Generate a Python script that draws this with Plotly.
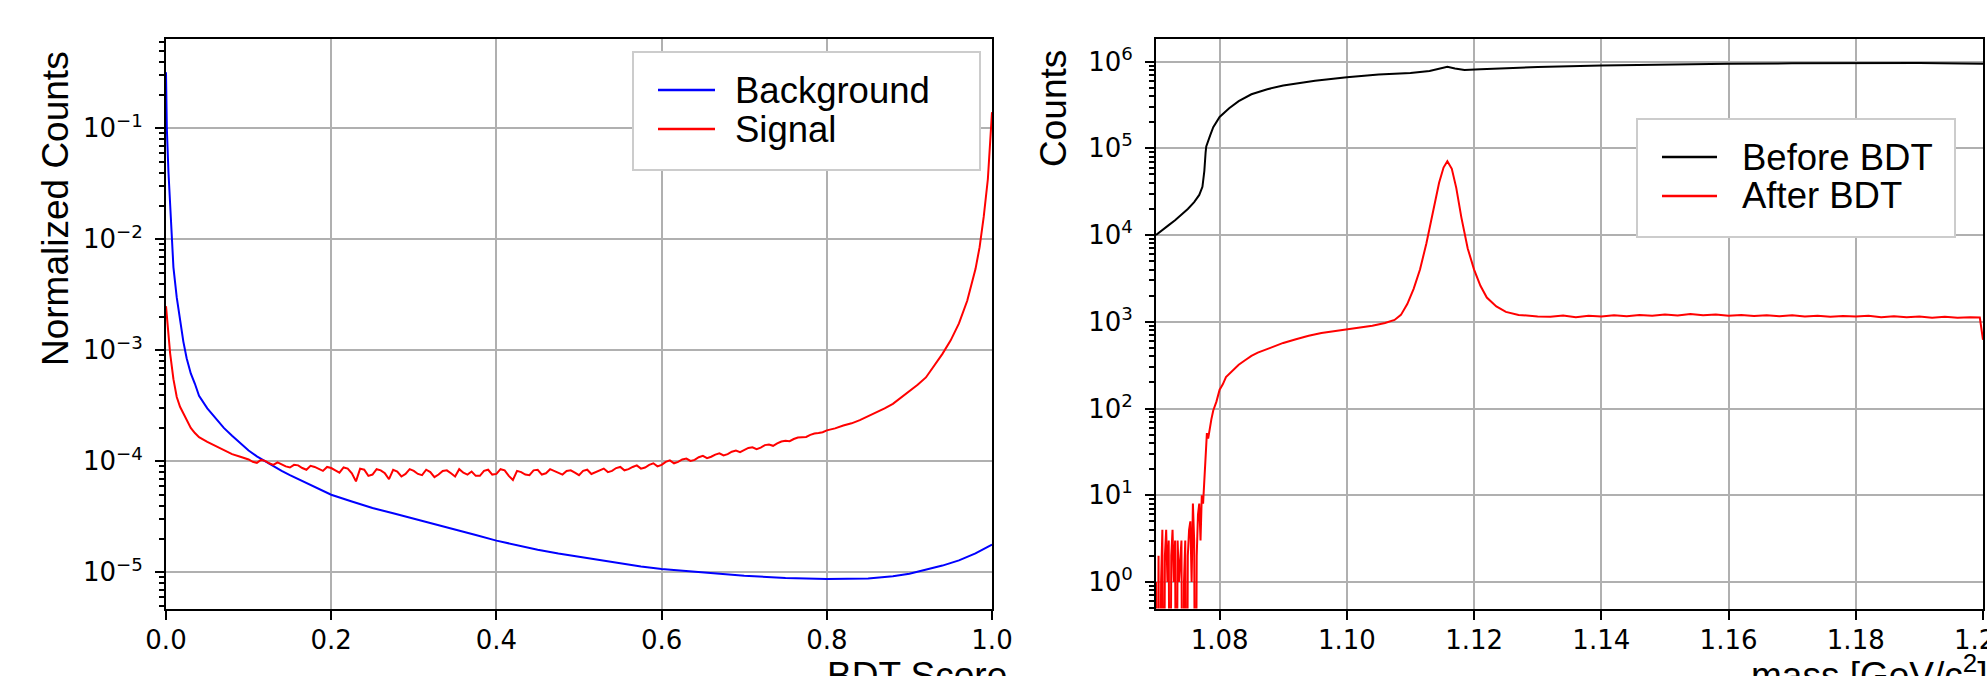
import plotly.graph_objects as go

W, H = 1987, 676

# ---------------- left panel: BDT score distributions ----------------
bkg_score = [0.0, 0.001, 0.003, 0.006, 0.009, 0.013, 0.017, 0.021, 0.025, 0.03,
             0.035, 0.04, 0.05, 0.06, 0.07, 0.08, 0.09, 0.10, 0.11, 0.12, 0.13, 0.14,
             0.15, 0.16, 0.17, 0.18, 0.19, 0.20, 0.225, 0.25, 0.275, 0.30, 0.325, 0.35,
             0.375, 0.40, 0.425, 0.45, 0.475, 0.50, 0.525, 0.55, 0.575,
             0.60, 0.65, 0.70, 0.75, 0.80, 0.85, 0.88, 0.90, 0.92, 0.94,
             0.96, 0.98, 1.0]
bkg_counts = [0.32, 0.10, 0.04, 0.0135, 0.0056, 3.0e-3, 1.8e-3, 1.2e-3, 8.5e-4, 6.2e-4,
              5.0e-4, 3.9e-4, 3.0e-4, 2.45e-4, 2.0e-4, 1.7e-4, 1.45e-4, 1.25e-4, 1.11e-4, 1.0e-4,
              9.0e-5, 8.2e-5,
              7.5e-5, 6.9e-5, 6.4e-5, 5.9e-5, 5.45e-5, 5.0e-5, 4.35e-5, 3.8e-5, 3.4e-5, 3.05e-5,
              2.72e-5, 2.45e-5, 2.17e-5, 1.93e-5, 1.75e-5, 1.6e-5, 1.48e-5, 1.38e-5, 1.29e-5,
              1.2e-5, 1.13e-5,
              1.07e-5, 9.9e-6, 9.3e-6, 8.9e-6, 8.7e-6, 8.8e-6, 9.2e-6, 9.7e-6, 1.05e-5, 1.15e-5,
              1.28e-5, 1.48e-5, 1.78e-5]

sig_score = [0.0, 0.002, 0.005, 0.009, 0.013, 0.017, 0.021, 0.025, 0.03, 0.035,
             0.04, 0.05, 0.06, 0.07, 0.08, 0.09,
             0.100, 0.105, 0.110, 0.115, 0.120, 0.125, 0.130, 0.135, 0.140, 0.145,
             0.150, 0.155, 0.160, 0.165, 0.170, 0.175, 0.180, 0.185, 0.190, 0.195,
             0.200, 0.205, 0.210, 0.215, 0.220, 0.225, 0.230, 0.235, 0.240, 0.245,
             0.250, 0.255, 0.260, 0.265, 0.270, 0.275, 0.280, 0.285, 0.290, 0.295,
             0.300, 0.305, 0.310, 0.315, 0.320, 0.325, 0.330, 0.335, 0.340, 0.345,
             0.350, 0.355, 0.360, 0.365, 0.370, 0.375, 0.380, 0.385, 0.390, 0.395,
             0.400, 0.405, 0.410, 0.415, 0.420, 0.425, 0.430, 0.435, 0.440, 0.445,
             0.450, 0.455, 0.460, 0.465, 0.470, 0.475, 0.480, 0.485, 0.490, 0.495,
             0.500, 0.505, 0.510, 0.515, 0.520, 0.525, 0.530, 0.535, 0.540, 0.545,
             0.550, 0.555, 0.560, 0.565, 0.570, 0.575, 0.580, 0.585, 0.590, 0.595,
             0.600, 0.605, 0.610, 0.615, 0.620, 0.625, 0.630, 0.635, 0.640, 0.645,
             0.650, 0.655, 0.660, 0.665, 0.670, 0.675, 0.680, 0.685, 0.690, 0.695,
             0.700, 0.705, 0.710, 0.715, 0.720, 0.725, 0.730, 0.735, 0.740, 0.745,
             0.750, 0.755, 0.760, 0.765, 0.770, 0.775, 0.780, 0.785, 0.790, 0.795,
             0.800, 0.81, 0.82, 0.83, 0.84, 0.85, 0.86, 0.87, 0.88, 0.89,
             0.90, 0.91, 0.92, 0.93, 0.94, 0.95, 0.96, 0.97, 0.975, 0.98,
             0.985, 0.99, 0.995, 1.0]
sig_counts = [2.5e-3, 1.6e-3, 9.4e-4, 5.5e-4, 3.8e-4, 3.1e-4, 2.7e-4, 2.3e-4, 2.0e-4, 1.8e-4,
              1.65e-4, 1.5e-4, 1.38e-4, 1.25e-4, 1.16e-4, 1.1e-4,
              1.04e-4, 9.9e-5, 9.7e-5, 1.03e-4, 1.01e-4, 9.6e-5, 9.3e-5, 9.8e-5, 9.4e-5, 9.0e-5,
              8.8e-5, 9.3e-5, 9.2e-5, 8.7e-5, 8.4e-5, 9.1e-5, 8.9e-5, 8.5e-5, 8.2e-5, 8.9e-5,
              8.7e-5, 8.3e-5, 7.9e-5, 8.8e-5, 8.6e-5, 7.8e-5, 6.6e-5, 8.6e-5, 8.4e-5, 7.4e-5,
              7.6e-5, 8.5e-5, 8.3e-5, 7.8e-5, 6.9e-5, 8.4e-5, 8.1e-5, 7.3e-5, 7.7e-5, 8.5e-5,
              8.2e-5, 7.7e-5, 7.5e-5, 8.4e-5, 8.0e-5, 7.2e-5, 7.6e-5, 8.2e-5, 8.3e-5, 7.8e-5,
              7.3e-5, 8.5e-5, 7.9e-5, 7.6e-5, 8.1e-5, 7.4e-5, 7.4e-5, 8.2e-5, 8.4e-5, 7.6e-5,
              7.7e-5, 8.5e-5, 8.3e-5, 7.4e-5, 6.8e-5, 8.2e-5, 8.0e-5, 7.6e-5, 7.5e-5, 8.3e-5,
              8.4e-5, 7.6e-5, 7.8e-5, 8.5e-5, 8.2e-5, 7.8e-5, 7.6e-5, 8.2e-5, 8.3e-5, 7.9e-5,
              7.5e-5, 8.2e-5, 8.4e-5, 7.7e-5, 8.0e-5, 8.3e-5, 8.6e-5, 8.0e-5, 8.2e-5, 8.7e-5,
              8.9e-5, 8.3e-5, 8.5e-5, 8.9e-5, 9.2e-5, 8.6e-5, 8.8e-5, 9.3e-5, 9.6e-5, 9.0e-5,
              9.3e-5, 9.9e-5, 1.02e-4, 9.6e-5, 9.9e-5, 1.04e-4, 1.06e-4, 1.01e-4, 1.03e-4, 1.09e-4,
              1.12e-4, 1.07e-4, 1.10e-4, 1.15e-4, 1.18e-4, 1.13e-4, 1.16e-4, 1.22e-4, 1.25e-4, 1.21e-4,
              1.27e-4, 1.32e-4, 1.34e-4, 1.29e-4, 1.33e-4, 1.40e-4, 1.42e-4, 1.38e-4, 1.45e-4, 1.51e-4,
              1.53e-4, 1.52e-4, 1.59e-4, 1.64e-4, 1.65e-4, 1.66e-4, 1.73e-4, 1.78e-4, 1.80e-4, 1.83e-4,
              1.90e-4, 1.98e-4, 2.10e-4, 2.20e-4, 2.35e-4, 2.55e-4, 2.75e-4, 3.0e-4, 3.3e-4, 3.75e-4,
              4.3e-4, 4.9e-4, 5.7e-4, 7.2e-4, 9.3e-4, 1.23e-3, 1.75e-3, 2.8e-3, 3.8e-3, 5.4e-3,
              8.5e-3, 0.016, 0.035, 0.14]

# ---------------- right panel: invariant mass ----------------
mass_before = [1.0700, 1.0710, 1.0720, 1.0730, 1.0740, 1.0750, 1.0760, 1.0768, 1.0773, 1.0776,
               1.0778, 1.0779, 1.0785, 1.0790, 1.0800, 1.0815, 1.0830, 1.0850, 1.0875, 1.0900,
               1.0950, 1.1000, 1.1050, 1.1100, 1.1130, 1.1145, 1.1158, 1.1170, 1.1185, 1.1210,
               1.1250, 1.1300, 1.1400, 1.1500, 1.1600, 1.1700, 1.1800, 1.1900, 1.2000]
counts_before = [1.0e4, 1.15e4, 1.3e4, 1.48e4, 1.7e4, 2.0e4, 2.4e4, 2.9e4, 3.6e4, 5.5e4,
                 9.0e4, 1.05e5, 1.4e5, 1.75e5, 2.3e5, 2.9e5, 3.5e5, 4.2e5, 4.8e5, 5.3e5,
                 6.0e5, 6.6e5, 7.1e5, 7.4e5, 7.8e5, 8.2e5, 8.7e5, 8.3e5, 8.0e5, 8.15e5,
                 8.4e5, 8.65e5, 9.0e5, 9.25e5, 9.45e5, 9.55e5, 9.65e5, 9.6e5, 9.45e5]

mass_after = [1.0700, 1.0702, 1.0704, 1.0706, 1.0708, 1.0710, 1.0712, 1.0714, 1.0716, 1.0718,
              1.0720, 1.0722, 1.0724, 1.0726, 1.0728, 1.0730, 1.0732, 1.0734, 1.0736, 1.0738,
              1.0740, 1.0742, 1.0744, 1.0746, 1.0748, 1.0750, 1.0752, 1.0754, 1.0756, 1.0758,
              1.0760, 1.0762, 1.0764, 1.0766, 1.0768, 1.0770, 1.0772,
              1.0774, 1.0776, 1.0778, 1.0780, 1.0782, 1.0784, 1.0787, 1.0790, 1.0795, 1.0800,
              1.0805, 1.0810, 1.0820, 1.0830, 1.0840, 1.0850, 1.0860, 1.0870, 1.0880, 1.0890,
              1.0900, 1.0920, 1.0940, 1.0960, 1.0980, 1.1000, 1.1020, 1.1040, 1.1060, 1.1075,
              1.1085, 1.1095, 1.1105, 1.1115, 1.1125, 1.1135, 1.1145, 1.1152, 1.1158, 1.1165,
              1.1172, 1.1180, 1.1190, 1.1200, 1.1210, 1.1220, 1.1235, 1.1250, 1.1270, 1.1300,
              1.132, 1.134, 1.136, 1.138, 1.140, 1.142, 1.144, 1.146, 1.148, 1.150,
              1.152, 1.154, 1.156, 1.158, 1.160, 1.162, 1.164, 1.166, 1.168, 1.170,
              1.172, 1.174, 1.176, 1.178, 1.180, 1.182, 1.184, 1.186, 1.188, 1.190,
              1.192, 1.194, 1.196, 1.198, 1.1995, 1.2000]
counts_after = [1, 0, 2, 0, 1, 4, 0, 2, 4, 1,
                3, 0, 2, 4, 1, 3, 0, 3, 1, 2,
                3, 0, 1, 3, 0, 2, 4, 5, 1, 8,
                3, 0, 2, 6, 8, 3, 10,
                8, 16, 30, 52, 45, 58, 75, 95, 120, 165,
                190, 230, 270, 320, 360, 405, 440, 470, 510, 540,
                570, 630, 690, 740, 775, 810, 850, 900, 970, 1050,
                1200, 1600, 2400, 4000, 8000, 1.8e4, 4.0e4, 6.0e4, 7.1e4, 5.8e4,
                3.5e4, 1.6e4, 7000, 4000, 2600, 1900, 1500, 1300, 1200, 1150,
                1140, 1180, 1130, 1170, 1150, 1190, 1160, 1200, 1170, 1210,
                1180, 1230, 1190, 1210, 1175, 1200, 1165, 1190, 1160, 1185,
                1150, 1175, 1140, 1165, 1150, 1170, 1130, 1160, 1125, 1150,
                1115, 1140, 1110, 1130, 1120, 620]

# ---------------- tick labels ----------------
left_ytick_vals = [1e-5, 1e-4, 1e-3, 1e-2, 1e-1]
left_ytick_text = ["10<sup>−5</sup>", "10<sup>−4</sup>", "10<sup>−3</sup>",
                   "10<sup>−2</sup>", "10<sup>−1</sup>"]
right_ytick_vals = [1e0, 1e1, 1e2, 1e3, 1e4, 1e5, 1e6]
right_ytick_text = ["10<sup>0</sup>", "10<sup>1</sup>", "10<sup>2</sup>", "10<sup>3</sup>",
                    "10<sup>4</sup>", "10<sup>5</sup>", "10<sup>6</sup>"]
left_xtick_vals = [0.0, 0.2, 0.4, 0.6, 0.8, 1.0]
left_xtick_text = ["0.0", "0.2", "0.4", "0.6", "0.8", "1.0"]
right_xtick_vals = [1.08, 1.10, 1.12, 1.14, 1.16, 1.18, 1.20]
right_xtick_text = ["1.08", "1.10", "1.12", "1.14", "1.16", "1.18", "1.20"]

left_series = [("Background", bkg_score, bkg_counts, "#0000ff"),
               ("Signal", sig_score, sig_counts, "#ff0000")]
right_series = [("Before BDT", mass_before, counts_before, "#000000"),
                ("After BDT", mass_after, counts_after, "#ff0000")]

# ---------------- layout geometry (pixels) ----------------
def px(x):
    return x / W


def py(y):
    return 1 - y / H


AX_TOP, AX_BOT = 38.5, 608.5
L_LEFT, L_RIGHT = 166, 992
R_LEFT, R_RIGHT = 1156, 1983

TICK_FONT = dict(family="DejaVu Sans", size=26, color="black")
LABEL_FONT = dict(family="Liberation Sans, Arial", size=37, color="black")
LEG_FONT = dict(family="Liberation Sans, Arial", size=36.5, color="black")
GRID = "#b0b0b0"


def minor_vals(lo, hi):
    vals = []
    for e in range(lo, hi + 1):
        for m in range(2, 10):
            vals.append(m * 10.0 ** e)
    return vals


fig = go.Figure()

for name, xs, ys, col in left_series:
    fig.add_trace(go.Scatter(x=xs, y=ys, mode="lines", name=name,
                             line=dict(color=col, width=2),
                             xaxis="x", yaxis="y", showlegend=False))

for name, xs, ys, col in right_series:
    yplot = [v if v > 0 else 1e-3 for v in ys]  # empty bins drop to the bottom
    fig.add_trace(go.Scatter(x=xs, y=yplot, mode="lines", name=name,
                             line=dict(color=col, width=2),
                             xaxis="x2", yaxis="y2", showlegend=False))

common_x = dict(showline=True, linecolor="black", linewidth=2, mirror=True,
                ticks="outside", ticklen=9, tickwidth=2, tickcolor="black",
                showgrid=True, gridcolor=GRID, gridwidth=1.6, automargin=False,
                zeroline=False, tickfont=TICK_FONT, ticklabelstandoff=-2,
                ticklabeloverflow="allow")
common_y = dict(type="log", showline=True, linecolor="black", linewidth=2, mirror=True,
                ticks="outside", ticklen=9, tickwidth=2, tickcolor="black",
                showgrid=True, gridcolor=GRID, gridwidth=1.6, automargin=False,
                zeroline=False, tickfont=TICK_FONT, ticklabelstandoff=7,
                tickmode="array", ticklabeloverflow="allow")

fig.update_layout(
    template="none",
    width=W, height=H,
    margin=dict(l=0, r=0, t=0, b=0, pad=0, autoexpand=False),
    paper_bgcolor="white", plot_bgcolor="white",
    showlegend=False,
    xaxis=dict(common_x, domain=[px(L_LEFT), px(L_RIGHT)], range=[0, 1],
               tickmode="array", tickvals=left_xtick_vals, ticktext=left_xtick_text,
               anchor="y"),
    yaxis=dict(common_y, domain=[py(AX_BOT), py(AX_TOP)], range=[-5.326, -0.19],
               tickvals=left_ytick_vals, ticktext=left_ytick_text, anchor="x",
               minor=dict(tickmode="array", tickvals=minor_vals(-6, -1),
                          ticks="outside", ticklen=5, tickwidth=1.5,
                          tickcolor="black", showgrid=False)),
    xaxis2=dict(common_x, domain=[px(R_LEFT), px(R_RIGHT)], range=[1.07, 1.2000001],
                tickmode="array", tickvals=right_xtick_vals, ticktext=right_xtick_text,
                anchor="y2"),
    yaxis2=dict(common_y, domain=[py(AX_BOT), py(AX_TOP)], range=[-0.306, 6.266],
                tickvals=right_ytick_vals, ticktext=right_ytick_text, anchor="x2",
                minor=dict(tickmode="array", tickvals=minor_vals(-1, 6),
                           ticks="outside", ticklen=5, tickwidth=1.5,
                           tickcolor="black", showgrid=False)),
)

annotations = []
shapes = []

# axis titles
annotations.append(dict(text="BDT Score", x=px(917), y=py(698), xref="paper", yref="paper",
                        xanchor="center", yanchor="bottom", showarrow=False, font=LABEL_FONT))
annotations.append(dict(text="mass [GeV/c<sup>2</sup>]", x=px(1749), y=py(698),
                        xref="paper", yref="paper", xanchor="left", yanchor="bottom",
                        showarrow=False, font=LABEL_FONT))
annotations.append(dict(text="Normalized Counts", x=px(55), y=py(209), xref="paper",
                        yref="paper", xanchor="center", yanchor="middle", textangle=-90,
                        showarrow=False, font=LABEL_FONT))
annotations.append(dict(text="Counts", x=px(1053), y=py(109), xref="paper",
                        yref="paper", xanchor="center", yanchor="middle", textangle=-90,
                        showarrow=False, font=LABEL_FONT))

# legends (drawn as boxes with line samples and text labels)
legend_specs = [
    (left_series, (633, 52, 980, 170), (658, 715), 733, [90, 129]),
    (right_series, (1637, 119, 1955, 237), (1662, 1717), 1740, [157, 196]),
]
for series, box, (lx0, lx1), tx, rows in legend_specs:
    bx0, by0, bx1, by1 = box
    shapes.append(dict(type="rect", xref="paper", yref="paper",
                       x0=px(bx0), x1=px(bx1), y0=py(by1), y1=py(by0),
                       line=dict(color="#cccccc", width=2), fillcolor="white",
                       layer="above"))
    for (name, _, _, col), ry in zip(series, rows):
        shapes.append(dict(type="line", xref="paper", yref="paper",
                           x0=px(lx0), x1=px(lx1), y0=py(ry), y1=py(ry),
                           line=dict(color=col, width=2.5), layer="above"))
        annotations.append(dict(text=name, x=px(tx), y=py(ry), xref="paper", yref="paper",
                                xanchor="left", yanchor="middle", showarrow=False,
                                font=LEG_FONT))

fig.update_layout(annotations=annotations, shapes=shapes)

fig.write_html("out.html", config={"displayModeBar": False})
